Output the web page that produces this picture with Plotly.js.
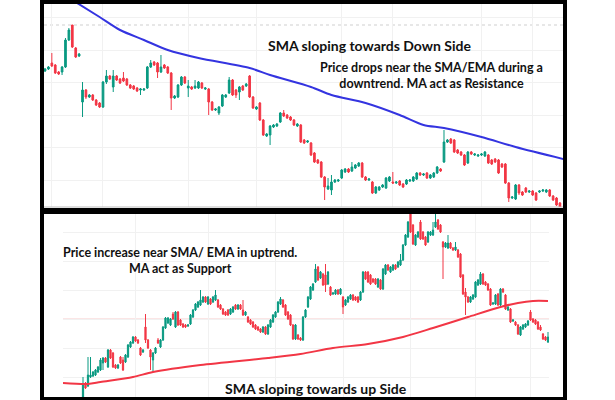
<!DOCTYPE html>
<html>
<head>
<meta charset="utf-8">
<script src="https://cdn.plot.ly/plotly-3.0.1.min.js"></script>
<style>html,body{margin:0;padding:0;background:#fff;}#chart{width:615px;height:400px;}</style>
</head>
<body>
<div id="chart"></div>
<script>
// ---------- Top panel (downtrend) ----------
const topOpen = [139,141,147,145,138,138,143,170,185,162,
154,108,120,113,115,110,107,103,128,134,
123,134,131,132,131,125,124,122,120,120,
122,143,148,147,138,145,143,137,112,113,
125,133,122,123,122,122,127,121,121,108,
100,97,104,113,117,130,120,118,124,124,
134,113,101,107,90,74,75,83,84,88,
97,95,93,90,84,85,70,68,67,57,
50,48,33,21,20,28,29,32,38,41,
39,42,44,47,33,30,28,17,20,23,
22,29,28,27,29,26,26,29,29,31,
37,35,37,32,33,37,41,48,68,71,
70,60,58,55,47,58,55,54,55,54,
55,50,51,50,46,46,27,12,11,25,
18,22,18,19,17,18,19,18,20,14,
12,7];
const topHigh = [142,144,157,146,139,144,172,182,185,163,
157,128,121,116,116,111,108,129,140,135,
140,135,132,138,132,126,125,123,122,122,
144,150,149,148,155,146,144,138,115,126,
134,134,130,124,130,129,128,123,122,109,
102,104,116,116,133,131,121,124,125,127,
135,114,104,108,91,77,85,86,87,98,
100,96,94,91,87,86,71,70,68,58,
51,49,34,32,35,31,31,41,42,42,
48,46,48,48,34,32,29,24,24,26,
33,34,38,29,30,27,31,31,34,38,
38,37,38,36,38,44,42,80,71,72,
71,61,59,56,59,59,57,56,57,59,
56,51,52,51,47,47,28,14,26,26,
19,23,20,20,18,20,21,21,21,15,
13,8];
const topLow = [138,140,143,136,135,135,142,169,162,152,
153,93,111,112,109,104,102,102,126,130,
118,129,126,128,124,121,120,118,115,119,
121,142,144,132,137,141,136,100,111,112,
124,126,113,120,121,121,121,120,95,99,
99,95,103,112,116,114,112,110,119,123,
112,101,100,89,74,73,65,82,83,87,
93,91,89,84,83,67,66,67,54,47,
46,32,10,20,15,27,28,31,37,37,
38,41,43,32,29,29,16,16,19,22,
21,28,26,26,24,22,25,28,28,30,
34,34,31,31,32,36,38,47,67,66,
57,56,54,44,46,55,54,53,54,53,
46,45,47,36,42,26,8,11,10,15,
14,17,17,14,9,17,18,17,13,9,
4,3];
const topClose = [141,143,144,137,136,143,170,180,163,153,
156,120,113,115,110,105,103,128,134,131,
134,130,127,129,125,122,121,119,121,121,
143,147,145,138,143,142,137,112,114,125,
133,127,124,121,124,128,122,122,108,100,
101,103,115,115,130,115,115,123,120,126,
113,102,103,90,75,76,84,85,86,97,
94,92,90,85,86,68,67,69,55,48,
47,33,23,24,28,30,30,40,41,38,
43,45,47,33,30,31,17,23,23,25,
32,33,27,28,25,23,30,30,33,37,
35,36,32,35,37,43,39,68,70,67,
58,57,55,45,58,56,56,55,56,58,
47,46,48,37,43,27,12,13,25,17,
15,18,19,15,10,19,20,20,14,10,
5,3];
const topSmaX = [8,16,22,29,36,45,60,66,78,84,94,104,111,117,128,138,152];
const topSmaY = [210,193,180,170,160,152,142,135,123,115,107,95,85,82,73,63,51];
const topGridX = [2,17,42,62,87,102,128,143];

// ---------- Bottom panel (uptrend) ----------
const botOpen = [3,17,14,23,24,25,28,30,37,42,
33,50,47,35,32,43,40,38,43,53,
57,63,60,52,48,73,60,50,40,47,
60,53,60,72,77,75,86,73,88,80,
76,75,74,76,83,90,93,95,98,103,
96,101,98,100,100,95,91,88,90,86,
88,95,91,95,90,85,83,80,78,75,
73,71,68,73,66,73,78,83,88,96,
100,95,88,85,75,61,65,62,60,83,
93,101,110,118,133,122,126,125,116,113,
106,106,110,106,103,95,98,101,105,103,
103,100,108,128,128,125,121,121,113,120,
111,126,135,128,130,135,133,135,140,155,
163,187,175,155,163,178,168,163,158,165,
165,173,180,175,158,153,152,157,152,150,
150,146,125,108,103,98,101,103,115,116,
126,118,116,111,96,96,106,95,111,105,
90,91,79,78,75,65,71,73,75,88,
81,80,78,73,66,63,58];
const botHigh = [23,18,43,43,29,31,34,42,43,43,
51,51,48,36,36,44,43,46,56,59,
64,64,61,53,51,86,61,51,48,53,
62,61,74,83,83,82,88,89,89,81,
77,76,76,86,91,97,99,110,104,104,
104,102,104,110,101,96,92,89,91,92,
94,96,96,96,100,89,84,81,79,76,
74,72,74,74,76,81,86,89,99,103,
101,96,89,86,76,76,66,63,84,91,
104,114,117,136,134,129,127,136,129,114,
108,111,111,112,104,101,104,106,106,104,
104,109,129,129,129,126,122,122,122,121,
132,136,136,134,136,136,139,146,156,166,
179,195,176,166,169,180,169,164,169,169,
178,186,181,176,159,158,165,158,153,158,
151,147,126,112,104,104,106,119,121,128,
127,119,117,112,98,106,107,112,112,106,
94,92,81,79,76,74,76,77,80,90,
82,81,79,75,67,64,68];
const botLow = [1,11,13,22,23,24,27,29,30,37,
32,41,32,31,31,36,29,37,42,52,
56,58,56,44,47,57,51,30,28,46,
56,52,59,71,76,74,80,72,74,74,
72,72,73,75,82,89,92,94,97,97,
95,95,97,99,92,90,85,84,84,85,
87,90,90,90,84,84,77,75,72,70,
69,67,67,65,65,72,77,82,87,95,
92,84,80,74,60,60,60,59,59,82,
92,100,109,117,119,121,114,108,115,104,
105,105,105,105,86,94,97,100,99,99,
97,99,107,120,117,115,117,115,112,110,
110,125,129,127,129,130,132,134,139,154,
162,167,155,154,162,160,160,154,157,164,
164,172,170,167,121,152,151,151,149,149,
142,122,105,85,97,97,100,102,114,115,
115,114,109,94,95,95,94,94,107,90,
89,77,78,74,65,64,70,72,74,79,
77,75,70,69,60,59,57];
const botClose = [16,12,25,25,28,30,33,40,42,38,
50,42,33,32,35,37,30,45,55,58,
63,59,57,45,50,60,52,43,47,52,
57,60,73,82,82,81,81,88,75,75,
73,73,75,85,90,96,98,100,103,98,
103,96,103,105,93,91,86,85,85,91,
93,91,95,91,85,88,78,76,73,71,
70,68,73,66,75,80,85,88,98,101,
93,85,81,75,61,75,61,60,83,90,
103,113,116,131,120,128,115,115,128,105,
107,110,106,111,93,100,103,105,100,100,
98,108,128,121,118,116,118,116,121,111,
131,135,130,133,135,131,138,140,155,165,
178,168,156,165,168,161,161,155,168,168,
170,178,171,168,153,157,157,152,150,153,
143,123,106,103,98,103,105,118,120,126,
116,115,110,95,97,105,95,111,108,91,
93,78,80,75,66,73,75,76,79,80,
78,76,71,70,61,60,63];
const botSmaX = [-8,2,7,20,28,47,74,87,100,114,128,140,154,167,174,180,186];
const botSmaY = [17,16,18,23,28,35,42,46,52,56,63,72,83,93,97,99,99];
const botGridX = [21,50,77,104,131,157,179];

// Texts
const topTitle = "SMA sloping towards Down Side";
const topNote = "Price drops near the SMA/EMA during a<br>downtrend. MA act as Resistance";
const botNote = "Price increase near SMA/ EMA in uptrend.<br>MA act as Support";
const botTitle = "SMA sloping towards up Side";

const UP = '#089981', DOWN = '#f23645';
const idx = a => a.map((_, i) => i);

const traces = [
  {type:'candlestick', x: idx(topOpen), open: topOpen, high: topHigh, low: topLow, close: topClose,
   xaxis:'x', yaxis:'y',
   increasing:{line:{color:UP, width:1}, fillcolor:UP},
   decreasing:{line:{color:DOWN, width:1}, fillcolor:DOWN},
   whiskerwidth:0, hoverinfo:'skip', showlegend:false},
  {type:'scatter', mode:'lines', x: topSmaX, y: topSmaY, xaxis:'x', yaxis:'y',
   line:{color:'#3434e0', width:2, shape:'spline', smoothing:0.8}, hoverinfo:'skip', showlegend:false},
  {type:'candlestick', x: idx(botOpen), open: botOpen, high: botHigh, low: botLow, close: botClose,
   xaxis:'x2', yaxis:'y2',
   increasing:{line:{color:UP, width:1}, fillcolor:UP},
   decreasing:{line:{color:DOWN, width:1}, fillcolor:DOWN},
   whiskerwidth:0, hoverinfo:'skip', showlegend:false},
  {type:'scatter', mode:'lines', x: botSmaX, y: botSmaY, xaxis:'x2', yaxis:'y2',
   line:{color:'#f23645', width:2, shape:'spline', smoothing:0.8}, hoverinfo:'skip', showlegend:false}
];

const W = 615, H = 400;
const px = v => v / W, py = v => 1 - v / H;
const gridCol = '#f1f1f1';
const axBase = {showticklabels:false, ticks:'', zeroline:false, showline:false, gridcolor:gridCol, gridwidth:1, fixedrange:true};

const layout = {
  width: W, height: H,
  margin:{l:0, r:0, t:0, b:0},
  paper_bgcolor:'#ffffff', plot_bgcolor:'#ffffff',
  showlegend:false,
  xaxis: Object.assign({}, axBase, {domain:[px(44), px(563)], range:[-0.3, 151.9], anchor:'y',
    tickmode:'array', tickvals: topGridX, rangeslider:{visible:false}}),
  yaxis: Object.assign({}, axBase, {domain:[py(207), py(4)], range:[3, 206], anchor:'x',
    tick0:30, dtick:32.5}),
  xaxis2: Object.assign({}, axBase, {domain:[px(63), px(549)], range:[-8, 186.4], anchor:'y2',
    tickmode:'array', tickvals: botGridX, rangeslider:{visible:false}}),
  yaxis2: Object.assign({}, axBase, {domain:[py(397), py(214)], range:[3, 186], anchor:'x2',
    tick0:23, dtick:29}),
  shapes: [
    {type:'line', xref:'x', yref:'y', x0:-0.3, x1:151.9, y0:185, y1:185, layer:'below', line:{color:'#cfcfcf', width:1, dash:'dot'}},
    {type:'line', xref:'x2', yref:'y2', x0:-8, x1:186.4, y0:81, y1:81, layer:'below', line:{color:'#f6caca', width:1}},
    {type:'line', xref:'paper', yref:'paper', x0:px(44), x1:px(563), y0:py(207), y1:py(207), line:{color:'#bdbdbd', width:1}},
    {type:'rect', xref:'paper', yref:'paper', x0:px(40), x1:px(44), y0:0, y1:1, fillcolor:'#000', line:{width:0}},
    {type:'rect', xref:'paper', yref:'paper', x0:px(563), x1:px(567), y0:0, y1:1, fillcolor:'#000', line:{width:0}},
    {type:'rect', xref:'paper', yref:'paper', x0:px(40), x1:px(567), y0:py(4), y1:1, fillcolor:'#000', line:{width:0}},
    {type:'rect', xref:'paper', yref:'paper', x0:px(40), x1:px(567), y0:0, y1:py(397), fillcolor:'#000', line:{width:0}},
    {type:'rect', xref:'paper', yref:'paper', x0:px(40), x1:px(567), y0:py(214), y1:py(208), fillcolor:'#000', line:{width:0}}
  ],
  annotations: [
    {text: topTitle, xref:'paper', yref:'paper', x:px(369), y:py(45), showarrow:false, xanchor:'center', yanchor:'middle',
     font:{family:'Lato, Open Sans, sans-serif', size:14, color:'#111', weight:'bold'}},
    {text: topNote, xref:'paper', yref:'paper', x:px(431), y:py(75), showarrow:false, xanchor:'center', yanchor:'middle',
     align:'center', font:{family:'Lato, Open Sans, sans-serif', size:12.5, color:'#111', weight:'bold'}},
    {text: botNote, xref:'paper', yref:'paper', x:px(180), y:py(260), showarrow:false, xanchor:'center', yanchor:'middle',
     align:'center', font:{family:'Lato, Open Sans, sans-serif', size:12.5, color:'#111', weight:'bold'}},
    {text: botTitle, xref:'paper', yref:'paper', x:px(316), y:py(388), showarrow:false, xanchor:'center', yanchor:'middle',
     font:{family:'Lato, Open Sans, sans-serif', size:14, color:'#111', weight:'bold'}}
  ]
};

Plotly.newPlot('chart', traces, layout, {displayModeBar:false, staticPlot:true});
</script>
</body>
</html>
